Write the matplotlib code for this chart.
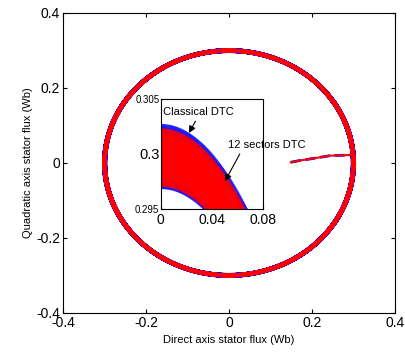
import numpy as np
import matplotlib
matplotlib.use("Agg")
import matplotlib.pyplot as plt

plt.rcParams["font.family"] = ["Liberation Sans", "DejaVu Sans"]

# flux hysteresis bands (Wb)
classical_band = [0.2968, 0.3027]
sectors12_band = [0.2970, 0.3023]
n_switch = 5000  # switching events along one revolution

# start-up trajectory (d, q) before reaching the circle
start_d = [0.149, 0.171, 0.195, 0.243, 0.292, 0.300]
start_q = [0.002, 0.0067, 0.0107, 0.0195, 0.0213, 0.0215]

main_ticks = [-0.4, -0.2, 0, 0.2, 0.4]
inset_xticks = [0, 0.04, 0.08]
inset_yticks = [0.295, 0.3, 0.305]


def band_path(band):
    th = np.linspace(0, 2 * np.pi, n_switch + 1)
    r = np.where(np.arange(n_switch + 1) % 2 == 0, band[1], band[0])
    return r * np.cos(th), r * np.sin(th)


cd, cq = band_path(classical_band)
sd, sq = band_path(sectors12_band)

fig = plt.figure(figsize=(4.05, 3.56), dpi=100)
ax = fig.add_axes([0.1556, 0.1208, 0.8198, 0.8427])
ax.plot(start_d, start_q, color="blue", linewidth=2.0, linestyle="--")
ax.plot(cd, cq, color="blue", linewidth=2.0)
ax.plot(start_d, start_q, color="red", linewidth=1.5)
ax.plot(sd, sq, color="red", linewidth=1.6)
ax.set_xlim(-0.4, 0.4)
ax.set_ylim(-0.4, 0.4)
ax.set_xticks(main_ticks)
ax.set_yticks(main_ticks)
ax.set_xticklabels(["-0.4", "-0.2", "0", "0.2", "0.4"])
ax.set_yticklabels(["-0.4", "-0.2", "0", "0.2", "0.4"])
ax.tick_params(direction="in", top=True, right=True, length=3, labelsize=10, pad=2)
ax.set_xlabel("Direct axis stator flux (Wb)", fontsize=8, labelpad=4)
ax.set_ylabel("Quadratic axis stator flux (Wb)", fontsize=8, labelpad=2)

axi = fig.add_axes([0.3968, 0.4143, 0.2526, 0.3076])
axi.plot(cd, cq, color="blue", linewidth=0.6)
axi.plot(sd, sq, color="red", linewidth=0.6)
axi.set_xlim(0, 0.08)
axi.set_ylim(0.295, 0.305)
axi.set_xticks(inset_xticks)
axi.set_yticks(inset_yticks)
axi.set_xticklabels(["0", "0.04", "0.08"])
axi.set_yticklabels(["0.295", "0.3", "0.305"])
for lab, fs in zip(axi.get_yticklabels(), [7, 10.5, 7]):
    lab.set_fontsize(fs)
axi.tick_params(direction="in", length=3, pad=1)
axi.tick_params(axis="x", labelsize=10, pad=3)

axi.annotate("Classical DTC", xy=(0.0221, 0.3019), xytext=(0.0018, 0.3038),
             fontsize=8, va="center", ha="left",
             arrowprops=dict(arrowstyle="-|>", color="k", lw=0.8,
                             mutation_scale=10, relpos=(0.49, 0), shrinkA=1, shrinkB=0))
axi.annotate("12 sectors DTC", xy=(0.0503, 0.2975), xytext=(0.0526, 0.3008),
             fontsize=8, va="center", ha="left", annotation_clip=False,
             arrowprops=dict(arrowstyle="-|>", color="k", lw=0.8,
                             mutation_scale=10, relpos=(0.18, 0), shrinkA=1, shrinkB=0))

fig.savefig("out.png", dpi=100)
